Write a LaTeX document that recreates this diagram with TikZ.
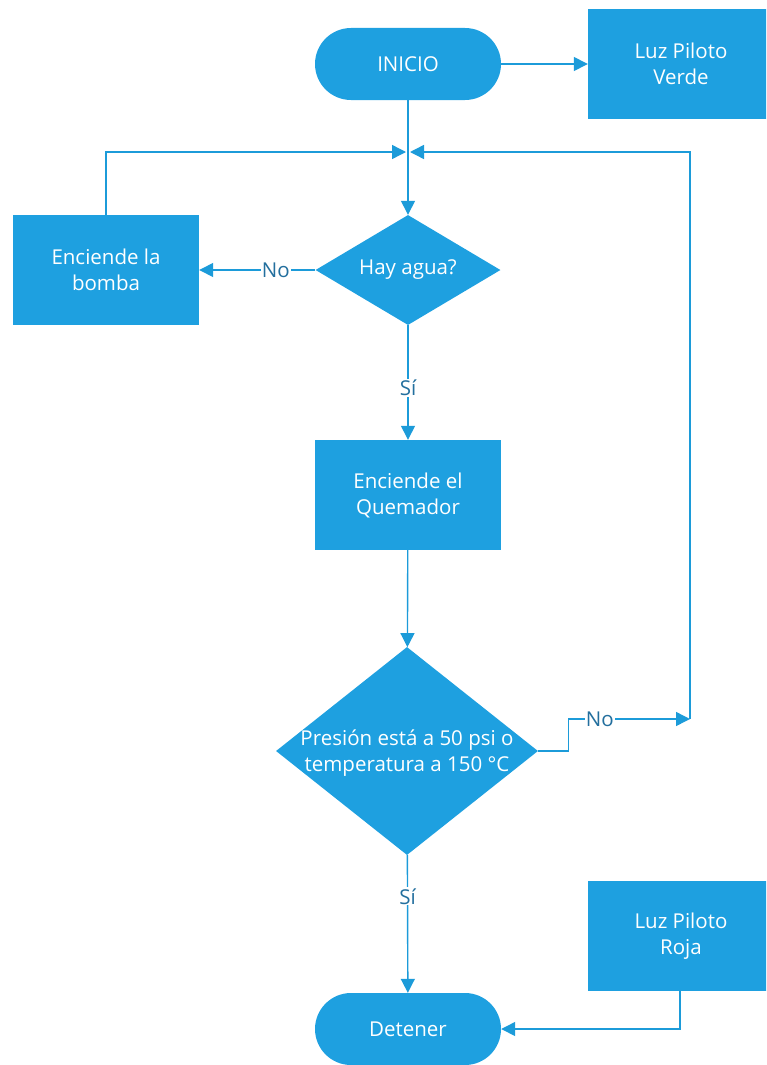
\documentclass[tikz,border=0pt]{standalone}
\usepackage{fontspec}
\setmainfont{Open Sans}
\usetikzlibrary{arrows.meta,shapes.geometric}
\definecolor{boxfill}{HTML}{1EA0E0}
\definecolor{wire}{HTML}{1C9BD9}
\definecolor{labelc}{HTML}{236F9E}

\tikzset{
  base/.style={fill=boxfill, draw=none, text=white, align=center,
    font=\fontsize{20.5}{26}\selectfont, inner sep=0pt},
  process/.style={base, rectangle, minimum width=186pt, minimum height=110pt},
  terminal/.style={base, rectangle, rounded corners=36pt, minimum width=186pt, minimum height=72pt},
  decision/.style={base, diamond},
  wirestyle/.style={draw=wire, line width=1.4pt},
  arr/.style={wirestyle, -{Triangle[length=14pt,width=14pt]}},
  lbl/.style={fill=white, text=labelc, inner sep=1pt, font=\fontsize{20.5}{24}\selectfont},
}

\begin{document}
\begin{tikzpicture}[x=1pt,y=-1pt]
\useasboundingbox (0,0) rectangle (766,1065);
\clip (0,0) rectangle (766,1065);

% shapes
\node[terminal] (start) at (408,64) {INICIO};
\node[process] (verde) at (681,64) {Luz Piloto\\Verde};
\node[process] (bomba) at (106,270) {Enciende la\\bomba};
\node[decision, minimum width=185pt, minimum height=110pt,
      label={[text=white, font=\fontsize{20.5}{26}\selectfont]center:Hay agua?}] (agua) at (408,270) {};
\node[process] (quem) at (408,495) {Enciende el\\Quemador};
\node[decision, minimum width=262pt, minimum height=208pt,
      label={[text=white, align=center, font=\fontsize{20.5}{26}\selectfont, yshift=-2pt]center:Presión está a 50 psi o\\temperatura a 150 °C}] (pres) at (407,751) {};
\node[terminal] (stop) at (408,1029) {Detener};
\node[process] (roja) at (681,936) {Luz Piloto\\Roja};

% junction points
\coordinate (j) at (408,152);
\coordinate (r) at (690,719);

% connectors
\draw[arr] (start) -- (verde);
\draw[wirestyle] (start) -- (j);
\draw[arr] (j) -- (agua);
\draw[arr, shorten >=2pt] (bomba.north) |- (j);
\draw[arr] (agua) -- node[lbl, pos=0.34]{No} (bomba);
\draw[arr] (agua) -- node[lbl, pos=0.55]{Sí} (quem);
\draw[arr] (quem) -- (pres);
\draw[arr] (pres.east) -- ++(30,0) |- node[lbl, pos=0.63]{No} (r);
\draw[arr, shorten >=2pt] (r) |- (j);
\draw[arr] (pres) -- node[lbl, pos=0.3]{Sí} (stop);
\draw[arr] ([xshift=-1pt]roja.south) |- (stop.east);
\end{tikzpicture}
\end{document}
